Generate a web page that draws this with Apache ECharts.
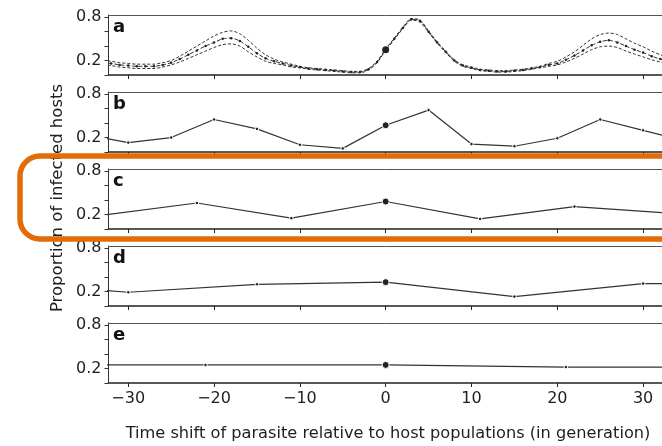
<!DOCTYPE html>
<html>
<head>
<meta charset="utf-8">
<script src="https://cdn.jsdelivr.net/npm/echarts@6/dist/echarts.min.js"></script>
<style>html,body{margin:0;padding:0;background:#fff}#c{width:662px;height:446px}</style>
</head>
<body>
<div id="c"></div>
<script>
// Panel a: time shifts (generations) and proportions (mid, upper, lower)
var tA = [-33,-32,-31,-30,-29,-28,-27,-26,-25,-24,-23,-22,-21,-20,-19,-18,-17,-16,-15,-14,-13,-12,-11,-10,-9,-8,-7,-6,-5,-4,-3,-2,-1,0,1,2,3,4,5,6,7,8,9,10,11,12,13,14,15,16,17,18,19,20,21,22,23,24,25,26,27,28,29,30,31,32,33,34];
var aMid = [0.17,0.16,0.14,0.13,0.12,0.12,0.12,0.14,0.17,0.22,0.28,0.34,0.40,0.45,0.50,0.51,0.47,0.39,0.30,0.23,0.19,0.16,0.13,0.11,0.09,0.08,0.07,0.06,0.05,0.04,0.04,0.08,0.18,0.35,0.50,0.65,0.77,0.75,0.60,0.45,0.32,0.20,0.13,0.10,0.07,0.06,0.05,0.05,0.06,0.07,0.09,0.11,0.14,0.16,0.21,0.27,0.34,0.41,0.46,0.48,0.45,0.40,0.35,0.31,0.26,0.22,0.19,0.17];
var aUpper = [0.20,0.19,0.17,0.16,0.15,0.15,0.15,0.17,0.20,0.26,0.33,0.40,0.47,0.54,0.59,0.61,0.57,0.48,0.37,0.28,0.22,0.18,0.15,0.12,0.10,0.09,0.08,0.07,0.06,0.05,0.05,0.09,0.19,0.36,0.51,0.66,0.78,0.76,0.61,0.46,0.33,0.21,0.14,0.11,0.08,0.07,0.06,0.06,0.07,0.08,0.10,0.12,0.16,0.19,0.25,0.32,0.41,0.50,0.56,0.58,0.56,0.50,0.44,0.39,0.33,0.28,0.24,0.21];
var aLower = [0.14,0.13,0.11,0.10,0.09,0.09,0.09,0.11,0.14,0.18,0.23,0.28,0.33,0.38,0.42,0.43,0.40,0.32,0.25,0.19,0.16,0.14,0.11,0.10,0.08,0.07,0.06,0.05,0.04,0.03,0.03,0.07,0.17,0.34,0.49,0.64,0.76,0.73,0.59,0.44,0.31,0.19,0.12,0.09,0.06,0.05,0.04,0.04,0.05,0.06,0.08,0.10,0.12,0.14,0.18,0.23,0.29,0.35,0.39,0.40,0.38,0.33,0.29,0.25,0.21,0.18,0.16,0.14];
// Panel b
var tB = [-35,-30,-25,-20,-15,-10,-5,0,5,10,15,20,25,30,35];
var bVal = [0.24,0.13,0.20,0.45,0.32,0.10,0.05,0.37,0.58,0.11,0.08,0.19,0.45,0.30,0.15];
// Panel c
var tC = [-33,-22,-11,0,11,22,33];
var cVal = [0.19,0.36,0.15,0.38,0.14,0.31,0.22];
// Panel d
var tD = [-45,-30,-15,0,15,30,45];
var dVal = [0.33,0.19,0.30,0.33,0.13,0.31,0.31];
// Panel e
var tE = [-42,-21,0,21,42];
var eVal = [0.25,0.25,0.25,0.22,0.22];
// Ticks and labels
var xTicks = [-30,-20,-10,0,10,20,30];
var yTicks = [0,0.2,0.4,0.6,0.8];
var yLabels = [0.2,0.8];
var panelLetters = ['a','b','c','d','e'];
var xTitle = 'Time shift of parasite relative to host populations (in generation)';
var yTitle = 'Proportion of infected hosts';

function zip(t, v){ return t.map(function(x,i){ return [x, v[i]]; }); }

var FONT = 'DejaVu Sans';
var ink = '#1e1e1e';
var tops = [15, 92, 169, 246, 323];
var H = 60;
var XMIN = -32.3, XMAX = 32.2;
var grids = [], xAxes = [], yAxes = [], series = [], graphics = [];

tops.forEach(function(top, i){
  grids.push({left:108.5, right:0, top:top, height:H, show:false, containLabel:false});
  // bottom axis (index 2*i)
  xAxes.push({
    type:'value', gridIndex:i, min:XMIN, max:XMAX, position:'bottom',
    axisLine:{show:true, onZero:false, lineStyle:{color:'#222', width:1.5}},
    axisTick:{show:true, customValues:xTicks, length:4, inside:false, lineStyle:{color:'#222', width:1}},
    axisLabel:{show:i===4, customValues:xTicks, margin:8, color:ink, fontFamily:FONT, fontSize:16,
      formatter:function(v){ return String(v).replace('-', '\u2212'); }},
    splitLine:{show:false}
  });
  // top border (index 2*i+1)
  xAxes.push({
    type:'value', gridIndex:i, min:XMIN, max:XMAX, position:'top',
    axisLine:{show:true, onZero:false, lineStyle:{color:'#555', width:1}},
    axisTick:{show:false}, axisLabel:{show:false}, splitLine:{show:false}
  });
  yAxes.push({
    type:'value', gridIndex:i, min:0, max:0.83,
    axisLine:{show:true, onZero:false, lineStyle:{color:'#333', width:1}},
    axisTick:{show:true, customValues:yTicks, length:4, lineStyle:{color:'#333', width:1}},
    axisLabel:{show:true, customValues:yLabels, margin:7, color:ink, fontFamily:FONT, fontSize:16,
      formatter:function(v){ return v.toFixed(1); }},
    splitLine:{show:false}
  });
  graphics.push({type:'text', left:113, top:top+3, z:50,
    style:{text:panelLetters[i], font:'bold 18px "DejaVu Sans"', fill:'#111'}});
});

function sizeFn(big, small){ return function(v){ return v[0]===0 ? big : small; }; }

// Panel a
series.push({type:'line', xAxisIndex:0, yAxisIndex:0, data:zip(tA,aUpper), showSymbol:false, symbol:'none', smooth:0.3,
  lineStyle:{color:'#333', width:1, type:[3,2]}, z:2});
series.push({type:'line', xAxisIndex:0, yAxisIndex:0, data:zip(tA,aLower), showSymbol:false, symbol:'none', smooth:0.3,
  lineStyle:{color:'#333', width:1, type:[3,2]}, z:2});
series.push({type:'line', xAxisIndex:0, yAxisIndex:0, data:zip(tA,aMid), symbol:'circle', symbolSize:sizeFn(7,2.5), smooth:0.3,
  itemStyle:{color:'#222'}, lineStyle:{color:'#333', width:1, type:[4,2]}, z:3});

var others = [[tB,bVal],[tC,cVal],[tD,dVal],[tE,eVal]];
others.forEach(function(p, k){
  var i = k+1;
  series.push({type:'line', xAxisIndex:2*i, yAxisIndex:i, data:zip(p[0],p[1]), symbol:'circle', symbolSize:sizeFn(7,3.5),
    itemStyle:{color:'#222', borderColor:'#fff', borderWidth:1}, lineStyle:{color:'#333', width:1.2}, z:3});
});

graphics.push({type:'text', x:58, y:198, rotation:Math.PI/2, z:50,
  style:{text:yTitle, font:'16.5px "DejaVu Sans"', fill:ink, textAlign:'center', textVerticalAlign:'middle'}});
graphics.push({type:'text', x:388, y:434, z:50,
  style:{text:xTitle, font:'16.2px "DejaVu Sans"', fill:ink, textAlign:'center', textVerticalAlign:'middle'}});
graphics.push({type:'rect', z:100, shape:{x:20, y:156, width:720, height:83, r:20},
  style:{fill:'none', stroke:'#E36C0A', lineWidth:5.5}});

var chart = echarts.init(document.getElementById('c'), null, {renderer:'canvas'});
chart.setOption({
  animation:false,
  backgroundColor:'#fff',
  grid:grids, xAxis:xAxes, yAxis:yAxes, series:series, graphic:graphics
});
</script>
</body>
</html>
